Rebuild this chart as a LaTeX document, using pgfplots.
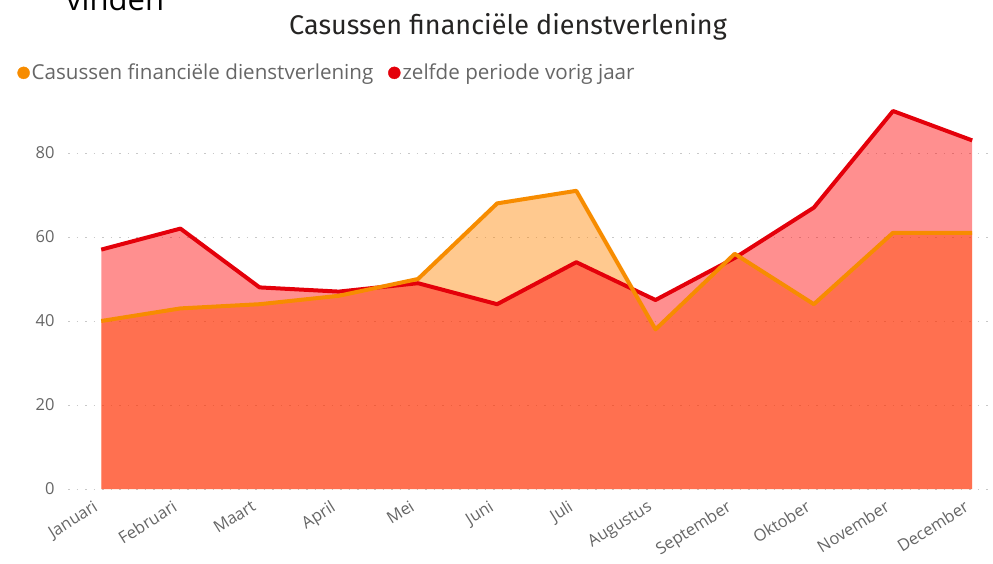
\documentclass[border=0pt]{standalone}
\usepackage{pgfplots}
\pgfplotsset{compat=1.18}
\usepackage{fontspec}
\setmainfont{Open Sans}
\newfontfamily\titlefont{Fira Sans}
\definecolor{orangeL}{RGB}{247,140,0}
\definecolor{redL}{RGB}{228,0,10}
\definecolor{orangeF}{RGB}{255,132,0}
\definecolor{redF}{RGB}{255,0,0}
\definecolor{tickgrey}{RGB}{102,102,102}
\definecolor{gridgrey}{RGB}{200,200,200}
\begin{document}
\begin{tikzpicture}[x=1pt,y=1pt]
\path[use as bounding box] (0,0) rectangle (993,563);
\node[anchor=base west, font=\fontsize{31}{34}\selectfont, text=black, inner sep=0pt] at (66,552) {vinden};
\node[font=\titlefont\fontsize{27}{30}\selectfont, text={rgb,255:red,37;green,36;blue,35}] at (508,536) {Casussen financiële dienstverlening};
\begin{axis}[
  at={(68pt,74pt)}, anchor=south west,
  scale only axis, width=924pt, height=386.4pt,
  xmin=-0.42, xmax=11.25, ymin=0, ymax=92,
  axis line style={draw=none},
  clip=false,
  xtick={0,...,11},
  xticklabels={Januari,Februari,Maart,April,Mei,Juni,Juli,Augustus,September,Oktober,November,December},
  ytick={0,20,40,60,80},
  major tick length=0pt,
  /pgf/number format/assume math mode=true,
  tick label style={font=\fontsize{16.5}{19}\selectfont, text=tickgrey},
  xticklabel style={rotate=32, anchor=north east, inner sep=1pt, yshift=-3pt, xshift=-12pt},
  yticklabel style={anchor=east, xshift=-10pt},
  ymajorgrids, grid style={gridgrey, line width=1pt, dash pattern=on 1.5pt off 7pt},
  legend style={at={(-0.058,1.077)}, anchor=west, draw=none, fill=none,
    font=\fontsize{20.6}{23}\selectfont, text=tickgrey, legend columns=2,
    /tikz/every even column/.append style={column sep=13pt}},
  legend cell align=left,
]
\addplot[draw=none, fill=orangeF, fill opacity=0.44, forget plot] coordinates {
(0,40) (1,43) (2,44) (3,46) (4,50) (5,68) (6,71) (7,38) (8,56) (9,44) (10,61) (11,61)} \closedcycle;
\addplot[draw=none, fill=redF, fill opacity=0.44, forget plot] coordinates {
(0,57) (1,62) (2,48) (3,47) (4,49) (5,44) (6,54) (7,45) (8,55) (9,67) (10,90) (11,83)} \closedcycle;
\addplot[redL, line width=4pt, line join=round, forget plot] coordinates {
(0,57) (1,62) (2,48) (3,47) (4,49) (5,44) (6,54) (7,45) (8,55) (9,67) (10,90) (11,83)};
\addplot[orangeL, line width=4pt, line join=round, forget plot] coordinates {
(0,40) (1,43) (2,44) (3,46) (4,50) (5,68) (6,71) (7,38) (8,56) (9,44) (10,61) (11,61)};
\addlegendimage{only marks, mark=*, mark size=6pt, orangeL}
\addlegendentry{Casussen financiële dienstverlening}
\addlegendimage{only marks, mark=*, mark size=6pt, redL}
\addlegendentry{zelfde periode vorig jaar}
\end{axis}
\end{tikzpicture}
\end{document}
